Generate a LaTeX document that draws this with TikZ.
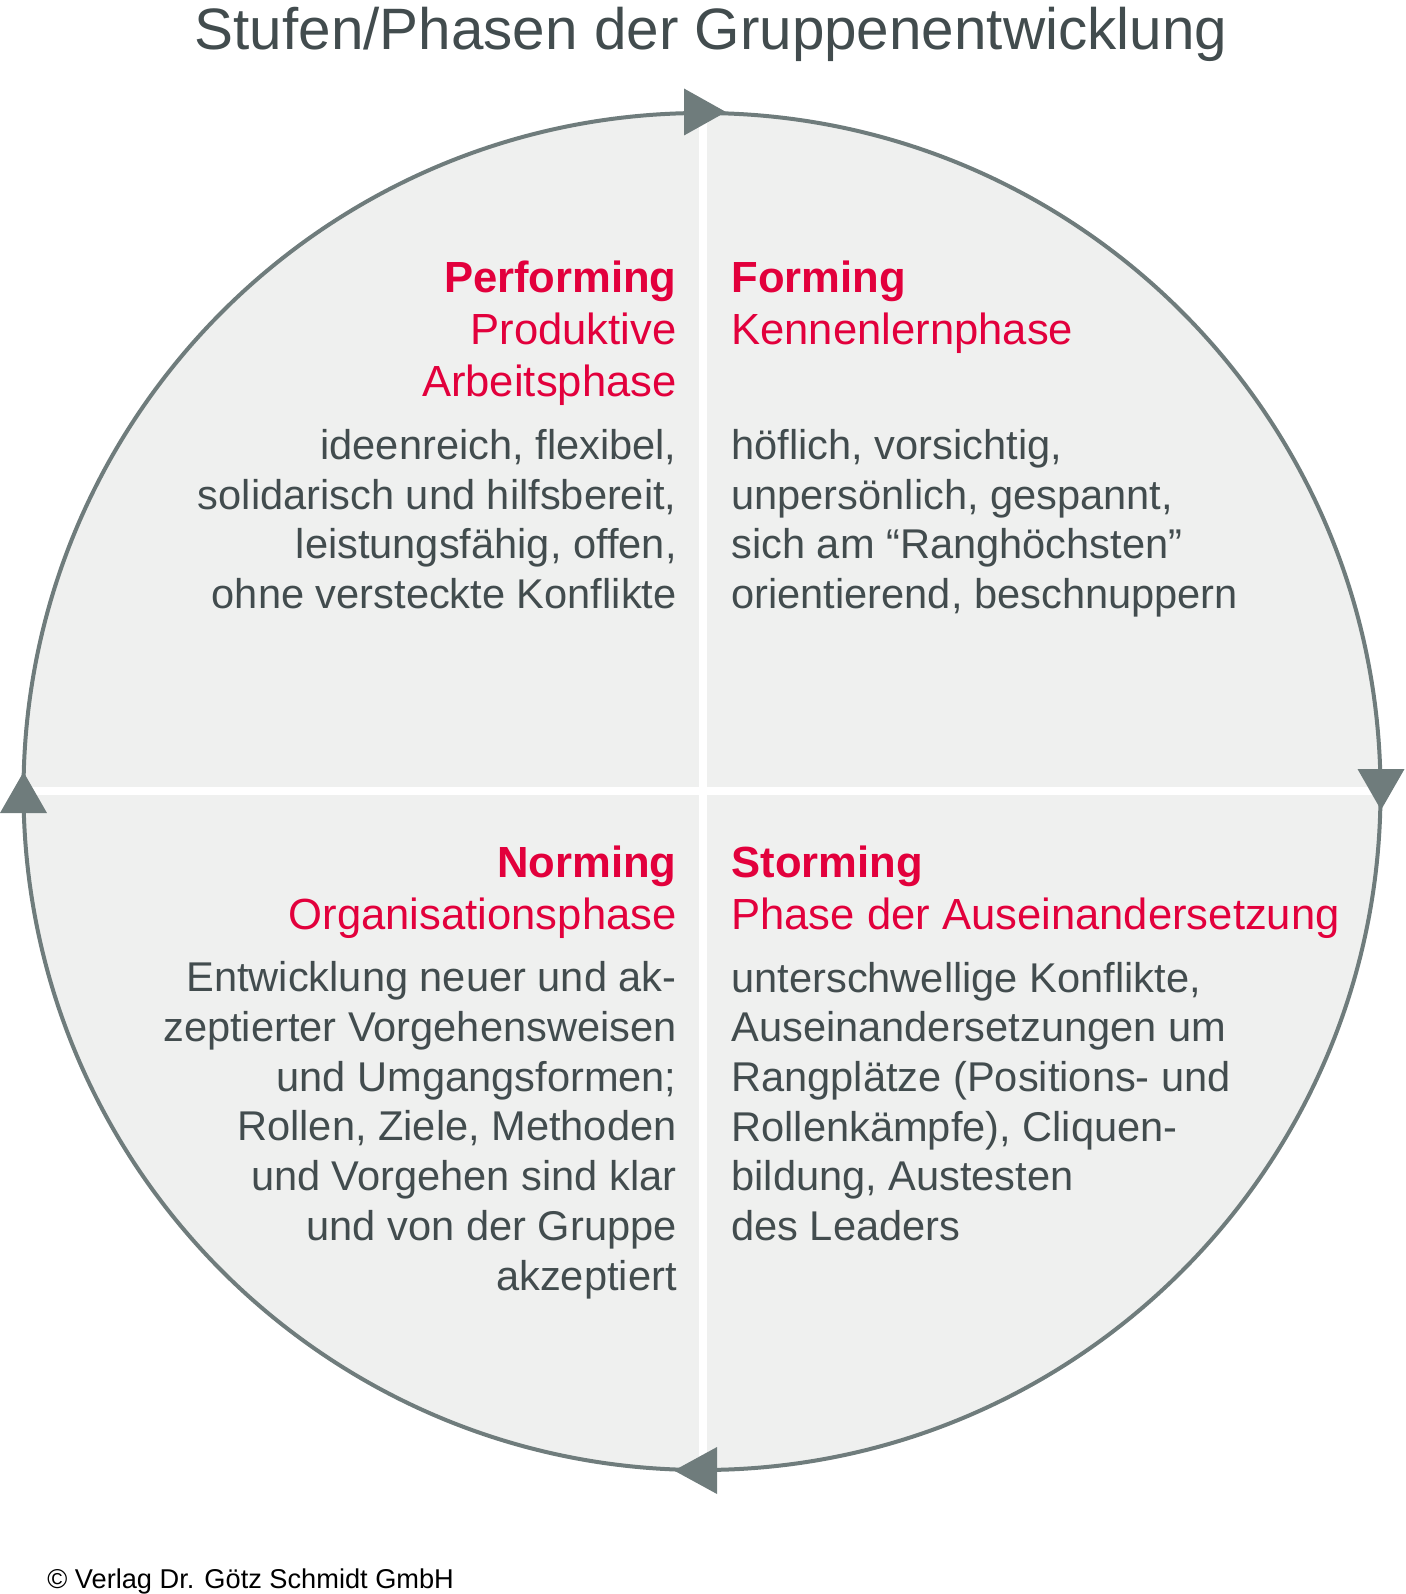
\documentclass[tikz,border=0pt]{standalone}
\usepackage{fontspec}
\setmainfont{Liberation Sans}
\definecolor{ringgray}{HTML}{6F7C7C}
\definecolor{fillgray}{HTML}{EFF0EF}
\definecolor{textgray}{HTML}{424C4E}
\definecolor{phasered}{HTML}{E2003C}
\tikzset{
  hdr/.style={text=phasered, font=\fontsize{21.8}{26}\selectfont, inner sep=0pt},
  bodytxt/.style={text=textgray, font=\fontsize{20.8}{24.85}\selectfont, inner sep=0pt},
  ring/.style={draw=ringgray, line width=2pt},
  tip/.style={fill=ringgray},
  sep/.style={fill=white}
}
\begin{document}
\begin{tikzpicture}[x=0.5pt,y=-0.5pt]
\useasboundingbox (0,0) rectangle (1405,1594);
\coordinate (c) at (702,791.5);
\fill[fillgray] (c) circle[radius=678.5];
\begin{scope}
  \clip (c) circle[radius=678.5];
  \fill[sep] (699.3,100) rectangle (707.3,1480);
  \fill[sep] (0,787) rectangle (1405,795);
\end{scope}
\draw[ring] (c) circle[radius=678.5];
% arrowheads
\fill[tip] (684,88.5) -- (684,135.5) -- (726,112) -- cycle;
\fill[tip] (1357.5,769) -- (1404.5,769) -- (1381,810) -- cycle;
\fill[tip] (717,1447) -- (717,1494) -- (674,1470.5) -- cycle;
\fill[tip] (0,813) -- (47,813) -- (23.5,772) -- cycle;
% title
\node[anchor=base, inner sep=0pt, text=textgray, font=\fontsize{29.2}{34}\selectfont] (title) at (711,50) {Stufen/Phasen der Gruppenentwicklung};
% Performing (anchor = baseline of last line)
\node[hdr, anchor=base east, align=right] (perfH) at (677,396) {\textbf{Performing}\\Produktive\\Arbeitsphase};
\node[bodytxt, anchor=base east, align=right] (perfB) at (677,608.5) {ideenreich, flexibel,\\solidarisch und hilfsbereit,\\leistungsfähig, offen,\\ohne versteckte Konflikte};
% Forming
\node[hdr, anchor=base west, align=left] (formH) at (731,344) {\textbf{Forming}\\Kennenlernphase};
\node[bodytxt, anchor=base west, align=left] (formB) at (731,608.5) {höflich, vorsichtig,\\unpersönlich, gespannt,\\sich am “Ranghöchsten”\\orientierend, beschnuppern};
% Norming
\node[hdr, anchor=base east, align=right] (normH) at (677,929) {\textbf{Norming}\\Organisationsphase};
\node[bodytxt, anchor=base east, align=right] (normB) at (677,1290) {Entwicklung neuer und ak-\\zeptierter Vorgehensweisen\\und Umgangsformen;\\Rollen, Ziele, Methoden\\und Vorgehen sind klar\\und von der Gruppe\\akzeptiert};
% Storming
\node[hdr, anchor=base west, align=left] (stormH) at (731,929) {\textbf{Storming}\\Phase der Auseinandersetzung};
\node[bodytxt, anchor=base west, align=left] (stormB) at (731,1240.5) {unterschwellige Konflikte,\\Auseinandersetzungen um\\Rangplätze (Positions- und\\Rollenkämpfe), Cliquen-\\bildung, Austesten\\des Leaders};
% copyright
\node[anchor=base west, inner sep=0pt, text=black, font=\fontsize{13.6}{16}\selectfont] (copy) at (47,1588) {© Verlag Dr. Götz Schmidt GmbH};
\end{tikzpicture}
\end{document}
